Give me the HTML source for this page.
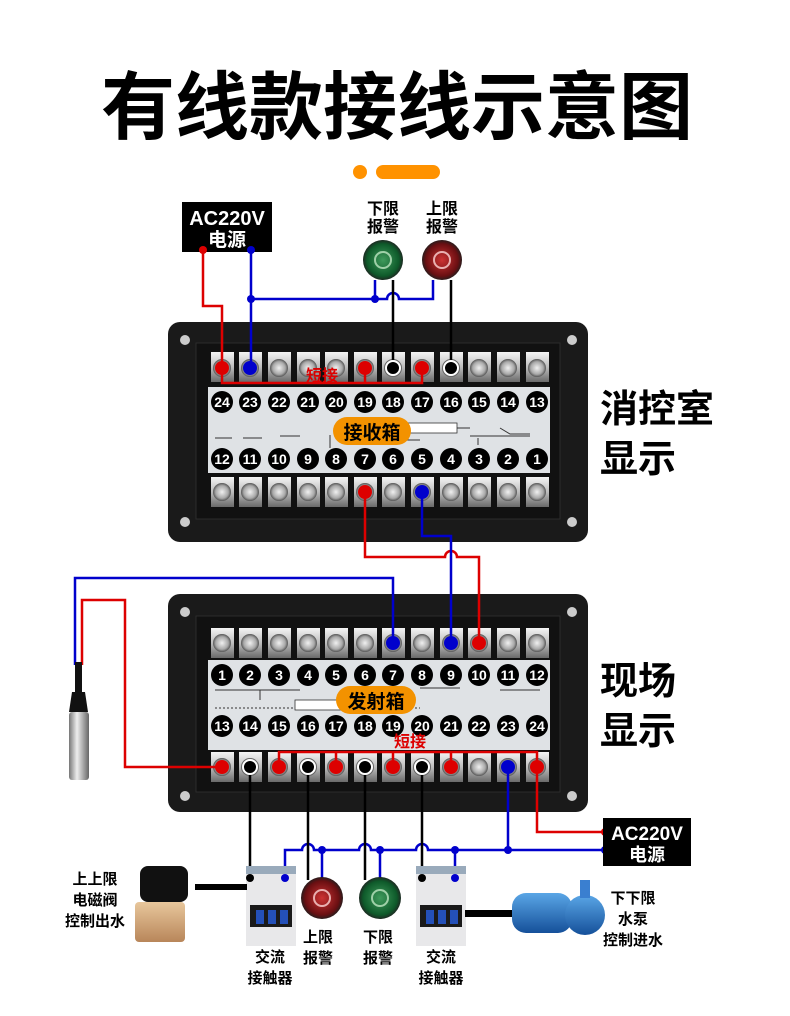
<!DOCTYPE html>
<html><head><meta charset="utf-8"><style>
body{margin:0;background:#fff}
svg{display:block}
text{font-family:"Liberation Sans","Noto Sans CJK SC",sans-serif;font-weight:bold}
</style></head><body>
<svg width="790" height="1016" viewBox="0 0 790 1016" xmlns="http://www.w3.org/2000/svg">
<defs>
<linearGradient id="term" x1="0" x2="0" y1="0" y2="1"><stop offset="0" stop-color="#f4f4f4"/><stop offset="0.5" stop-color="#bdbdbd"/><stop offset="1" stop-color="#6a6a6a"/></linearGradient>
<radialGradient id="screw"><stop offset="0" stop-color="#f0f0f0"/><stop offset="0.7" stop-color="#a8a8a8"/><stop offset="1" stop-color="#555"/></radialGradient>
<radialGradient id="gal"><stop offset="0" stop-color="#3f9a5c"/><stop offset="0.8" stop-color="#0e5a2a"/><stop offset="1" stop-color="#1d2a22"/></radialGradient>
<radialGradient id="ral"><stop offset="0" stop-color="#c33"/><stop offset="0.8" stop-color="#6a0f12"/><stop offset="1" stop-color="#2a1c1c"/></radialGradient>
<linearGradient id="probe" x1="0" x2="1"><stop offset="0" stop-color="#777"/><stop offset="0.4" stop-color="#eee"/><stop offset="1" stop-color="#666"/></linearGradient>
<linearGradient id="pump" x1="0" x2="0" y1="0" y2="1"><stop offset="0" stop-color="#5aa6e6"/><stop offset="1" stop-color="#15509a"/></linearGradient>
<linearGradient id="brass" x1="0" x2="0" y1="0" y2="1"><stop offset="0" stop-color="#e8c79c"/><stop offset="1" stop-color="#b8865a"/></linearGradient>
</defs>

<!-- title -->
<text x="397" y="133" font-size="74" text-anchor="middle" fill="#000" letter-spacing="0">有线款接线示意图</text>
<circle cx="360" cy="172" r="7" fill="#ff9200"/>
<rect x="376" y="165" width="64" height="14" rx="7" fill="#ff9200"/>

<!-- top AC220V -->
<rect x="182" y="202" width="90" height="50" fill="#000"/>
<text x="227" y="225" font-size="20" fill="#fff" text-anchor="middle">AC220V</text>
<text x="227" y="246" font-size="19" fill="#fff" text-anchor="middle">电源</text>
<text x="383" y="214" font-size="16" text-anchor="middle">下限</text>
<text x="383" y="232" font-size="16" text-anchor="middle">报警</text>
<text x="442" y="214" font-size="16" text-anchor="middle">上限</text>
<text x="442" y="232" font-size="16" text-anchor="middle">报警</text>
<circle cx="383" cy="260" r="20" fill="url(#gal)"/>
<circle cx="383" cy="260" r="8" fill="none" stroke="#9fd0a8" stroke-width="2"/>
<circle cx="442" cy="260" r="20" fill="url(#ral)"/>
<circle cx="442" cy="260" r="8" fill="none" stroke="#e9b0b0" stroke-width="2"/>

<!-- receiver box -->
<rect x="168" y="322" width="420" height="220" rx="12" fill="#1a1a1a"/>
<rect x="196" y="343" width="364" height="176" fill="#111" stroke="#2c2c2c"/>
<circle cx="185" cy="340" r="5" fill="#ccc"/><circle cx="572" cy="340" r="5" fill="#ccc"/>
<circle cx="185" cy="522" r="5" fill="#ccc"/><circle cx="572" cy="522" r="5" fill="#ccc"/>
<rect x="208" y="387" width="342" height="86" fill="#dfe2e5"/>
<g id="rt"></g>

<!-- transmitter box -->
<rect x="168" y="594" width="420" height="218" rx="12" fill="#1a1a1a"/>
<rect x="196" y="616" width="364" height="176" fill="#111" stroke="#2c2c2c"/>
<circle cx="185" cy="612" r="5" fill="#ccc"/><circle cx="572" cy="612" r="5" fill="#ccc"/>
<circle cx="185" cy="796" r="5" fill="#ccc"/><circle cx="572" cy="796" r="5" fill="#ccc"/>
<rect x="208" y="660" width="342" height="90" fill="#dfe2e5"/>

<!-- terminals -->
<g fill="url(#term)">
<rect x="211" y="352" width="23" height="30"/><rect x="239" y="352" width="23" height="30"/><rect x="268" y="352" width="23" height="30"/><rect x="297" y="352" width="23" height="30"/><rect x="325" y="352" width="23" height="30"/><rect x="354" y="352" width="23" height="30"/><rect x="382" y="352" width="23" height="30"/><rect x="411" y="352" width="23" height="30"/><rect x="440" y="352" width="23" height="30"/><rect x="468" y="352" width="23" height="30"/><rect x="497" y="352" width="23" height="30"/><rect x="526" y="352" width="23" height="30"/>
<rect x="211" y="477" width="23" height="30"/><rect x="239" y="477" width="23" height="30"/><rect x="268" y="477" width="23" height="30"/><rect x="297" y="477" width="23" height="30"/><rect x="325" y="477" width="23" height="30"/><rect x="354" y="477" width="23" height="30"/><rect x="382" y="477" width="23" height="30"/><rect x="411" y="477" width="23" height="30"/><rect x="440" y="477" width="23" height="30"/><rect x="468" y="477" width="23" height="30"/><rect x="497" y="477" width="23" height="30"/><rect x="526" y="477" width="23" height="30"/>
<rect x="211" y="628" width="23" height="30"/><rect x="239" y="628" width="23" height="30"/><rect x="268" y="628" width="23" height="30"/><rect x="297" y="628" width="23" height="30"/><rect x="325" y="628" width="23" height="30"/><rect x="354" y="628" width="23" height="30"/><rect x="382" y="628" width="23" height="30"/><rect x="411" y="628" width="23" height="30"/><rect x="440" y="628" width="23" height="30"/><rect x="468" y="628" width="23" height="30"/><rect x="497" y="628" width="23" height="30"/><rect x="526" y="628" width="23" height="30"/>
<rect x="211" y="752" width="23" height="30"/><rect x="239" y="752" width="23" height="30"/><rect x="268" y="752" width="23" height="30"/><rect x="297" y="752" width="23" height="30"/><rect x="325" y="752" width="23" height="30"/><rect x="354" y="752" width="23" height="30"/><rect x="382" y="752" width="23" height="30"/><rect x="411" y="752" width="23" height="30"/><rect x="440" y="752" width="23" height="30"/><rect x="468" y="752" width="23" height="30"/><rect x="497" y="752" width="23" height="30"/><rect x="526" y="752" width="23" height="30"/>
</g>
<g fill="url(#screw)">
<circle cx="222" cy="368" r="9"/><circle cx="250" cy="368" r="9"/><circle cx="279" cy="368" r="9"/><circle cx="308" cy="368" r="9"/><circle cx="336" cy="368" r="9"/><circle cx="365" cy="368" r="9"/><circle cx="393" cy="368" r="9"/><circle cx="422" cy="368" r="9"/><circle cx="451" cy="368" r="9"/><circle cx="479" cy="368" r="9"/><circle cx="508" cy="368" r="9"/><circle cx="537" cy="368" r="9"/>
<circle cx="222" cy="492" r="9"/><circle cx="250" cy="492" r="9"/><circle cx="279" cy="492" r="9"/><circle cx="308" cy="492" r="9"/><circle cx="336" cy="492" r="9"/><circle cx="365" cy="492" r="9"/><circle cx="393" cy="492" r="9"/><circle cx="422" cy="492" r="9"/><circle cx="451" cy="492" r="9"/><circle cx="479" cy="492" r="9"/><circle cx="508" cy="492" r="9"/><circle cx="537" cy="492" r="9"/>
<circle cx="222" cy="643" r="9"/><circle cx="250" cy="643" r="9"/><circle cx="279" cy="643" r="9"/><circle cx="308" cy="643" r="9"/><circle cx="336" cy="643" r="9"/><circle cx="365" cy="643" r="9"/><circle cx="393" cy="643" r="9"/><circle cx="422" cy="643" r="9"/><circle cx="451" cy="643" r="9"/><circle cx="479" cy="643" r="9"/><circle cx="508" cy="643" r="9"/><circle cx="537" cy="643" r="9"/>
<circle cx="222" cy="767" r="9"/><circle cx="250" cy="767" r="9"/><circle cx="279" cy="767" r="9"/><circle cx="308" cy="767" r="9"/><circle cx="336" cy="767" r="9"/><circle cx="365" cy="767" r="9"/><circle cx="393" cy="767" r="9"/><circle cx="422" cy="767" r="9"/><circle cx="451" cy="767" r="9"/><circle cx="479" cy="767" r="9"/><circle cx="508" cy="767" r="9"/><circle cx="537" cy="767" r="9"/>
</g>

<!-- number circles receiver -->
<g fill="#000">
<circle cx="222" cy="402" r="11"/><circle cx="250" cy="402" r="11"/><circle cx="279" cy="402" r="11"/><circle cx="308" cy="402" r="11"/><circle cx="336" cy="402" r="11"/><circle cx="365" cy="402" r="11"/><circle cx="393" cy="402" r="11"/><circle cx="422" cy="402" r="11"/><circle cx="451" cy="402" r="11"/><circle cx="479" cy="402" r="11"/><circle cx="508" cy="402" r="11"/><circle cx="537" cy="402" r="11"/>
<circle cx="222" cy="459" r="11"/><circle cx="250" cy="459" r="11"/><circle cx="279" cy="459" r="11"/><circle cx="308" cy="459" r="11"/><circle cx="336" cy="459" r="11"/><circle cx="365" cy="459" r="11"/><circle cx="393" cy="459" r="11"/><circle cx="422" cy="459" r="11"/><circle cx="451" cy="459" r="11"/><circle cx="479" cy="459" r="11"/><circle cx="508" cy="459" r="11"/><circle cx="537" cy="459" r="11"/>
<circle cx="222" cy="675" r="11"/><circle cx="250" cy="675" r="11"/><circle cx="279" cy="675" r="11"/><circle cx="308" cy="675" r="11"/><circle cx="336" cy="675" r="11"/><circle cx="365" cy="675" r="11"/><circle cx="393" cy="675" r="11"/><circle cx="422" cy="675" r="11"/><circle cx="451" cy="675" r="11"/><circle cx="479" cy="675" r="11"/><circle cx="508" cy="675" r="11"/><circle cx="537" cy="675" r="11"/>
<circle cx="222" cy="726" r="11"/><circle cx="250" cy="726" r="11"/><circle cx="279" cy="726" r="11"/><circle cx="308" cy="726" r="11"/><circle cx="336" cy="726" r="11"/><circle cx="365" cy="726" r="11"/><circle cx="393" cy="726" r="11"/><circle cx="422" cy="726" r="11"/><circle cx="451" cy="726" r="11"/><circle cx="479" cy="726" r="11"/><circle cx="508" cy="726" r="11"/><circle cx="537" cy="726" r="11"/>
</g>
<g fill="#fff" font-size="14" text-anchor="middle">
<text x="222" y="407">24</text><text x="250" y="407">23</text><text x="279" y="407">22</text><text x="308" y="407">21</text><text x="336" y="407">20</text><text x="365" y="407">19</text><text x="393" y="407">18</text><text x="422" y="407">17</text><text x="451" y="407">16</text><text x="479" y="407">15</text><text x="508" y="407">14</text><text x="537" y="407">13</text>
<text x="222" y="464">12</text><text x="250" y="464">11</text><text x="279" y="464">10</text><text x="308" y="464">9</text><text x="336" y="464">8</text><text x="365" y="464">7</text><text x="393" y="464">6</text><text x="422" y="464">5</text><text x="451" y="464">4</text><text x="479" y="464">3</text><text x="508" y="464">2</text><text x="537" y="464">1</text>
<text x="222" y="680">1</text><text x="250" y="680">2</text><text x="279" y="680">3</text><text x="308" y="680">4</text><text x="336" y="680">5</text><text x="365" y="680">6</text><text x="393" y="680">7</text><text x="422" y="680">8</text><text x="451" y="680">9</text><text x="479" y="680">10</text><text x="508" y="680">11</text><text x="537" y="680">12</text>
<text x="222" y="731">13</text><text x="250" y="731">14</text><text x="279" y="731">15</text><text x="308" y="731">16</text><text x="336" y="731">17</text><text x="365" y="731">18</text><text x="393" y="731">19</text><text x="422" y="731">20</text><text x="451" y="731">21</text><text x="479" y="731">22</text><text x="508" y="731">23</text><text x="537" y="731">24</text>
</g>
<!-- small panel lines -->
<g stroke="#333" stroke-width="1" fill="none">
<path d="M470 436 H530 M478 445 V438 M500 428 l10 6 l20 0"/>
<path d="M405 428 H470 M330 435 V448 M350 440 H420"/>
<path d="M215 438 H232 M243 438 H262 M280 436 H300"/>
<path d="M215 690 H300 M260 700 V690 M420 688 H460 M500 690 H540"/>
<path d="M215 708 H420" stroke-dasharray="2 2"/>
</g>
<rect x="397" y="423" width="60" height="10" fill="#fff" stroke="#333" stroke-width="0.8"/>
<rect x="295" y="700" width="62" height="10" fill="#fff" stroke="#333" stroke-width="0.8"/>
<rect x="333" y="417" width="78" height="28" rx="14" fill="#f39200"/>
<text x="372" y="439" font-size="19" text-anchor="middle" fill="#000">接收箱</text>
<rect x="336" y="686" width="80" height="28" rx="14" fill="#f39200"/>
<text x="376" y="708" font-size="19" text-anchor="middle" fill="#000">发射箱</text>

<!-- right labels -->
<g font-size="38" fill="#000" font-weight="normal">
<text x="600" y="422">消控室</text>
<text x="600" y="472">显示</text>
<text x="600" y="694">现场</text>
<text x="600" y="744">显示</text>
</g>

<!-- wires top -->
<g fill="none" stroke-width="2.5">
<path d="M203 250 V306 H222 V368" stroke="#d00"/>
<path d="M251 250 V368" stroke="#00c"/>
<path d="M251 299 H387 a6 6 0 0 1 12 0 H433 V280" stroke="#00c"/>
<path d="M375 299 V280" stroke="#00c"/>
<path d="M393 280 V368" stroke="#000"/>
<path d="M451 280 V368" stroke="#000"/>
<path d="M222 368 V383 H422 V368 M365 368 V383" stroke="#d00"/>
<!-- between boxes -->
<path d="M365 492 V557 H445 a6 6 0 0 1 12 0 H479 V643" stroke="#d00"/>
<path d="M422 492 V536 H451 V643" stroke="#00c"/>
<path d="M393 643 V578 H75 V665" stroke="#00c"/>
<path d="M82 665 V600 H125 V767 H222" stroke="#d00"/>
<!-- transmitter short link -->
<path d="M279 767 V752 H537 V767 M336 767 V752 M393 767 V752 M451 767 V752" stroke="#d00"/>
<!-- bottom -->
<path d="M537 767 V832 H605" stroke="#d00"/>
<path d="M508 767 V850" stroke="#00c"/>
<path d="M605 850 H428 a6 6 0 0 0 -12 0 H371 a6 6 0 0 0 -12 0 H314 a6 6 0 0 0 -12 0 H285 V878" stroke="#00c"/>
<path d="M322 850 V880 M380 850 V880 M455 850 V878" stroke="#00c"/>
<path d="M250 767 V878 M308 767 V880 M365 767 V880 M422 767 V878" stroke="#000"/>
</g>
<g fill="#d00"><circle cx="203" cy="250" r="4"/><circle cx="222" cy="368" r="7"/><circle cx="365" cy="368" r="7"/><circle cx="422" cy="368" r="7"/><circle cx="365" cy="492" r="7"/><circle cx="479" cy="643" r="7"/>
<circle cx="222" cy="767" r="7"/><circle cx="279" cy="767" r="7"/><circle cx="336" cy="767" r="7"/><circle cx="393" cy="767" r="7"/><circle cx="451" cy="767" r="7"/><circle cx="537" cy="767" r="7"/><circle cx="605" cy="832" r="4"/></g>
<g fill="#00c"><circle cx="251" cy="250" r="4"/><circle cx="250" cy="368" r="7"/><circle cx="251" cy="299" r="4"/><circle cx="375" cy="299" r="4"/><circle cx="422" cy="492" r="7"/><circle cx="393" cy="643" r="7"/><circle cx="451" cy="643" r="7"/><circle cx="508" cy="767" r="7"/>
<circle cx="322" cy="850" r="4"/><circle cx="380" cy="850" r="4"/><circle cx="455" cy="850" r="4"/><circle cx="508" cy="850" r="4"/><circle cx="605" cy="850" r="4"/></g>
<g fill="#000" stroke="#fff" stroke-width="2"><circle cx="393" cy="368" r="7"/><circle cx="451" cy="368" r="7"/><circle cx="250" cy="767" r="7"/><circle cx="308" cy="767" r="7"/><circle cx="365" cy="767" r="7"/><circle cx="422" cy="767" r="7"/></g>
<text x="322" y="381" font-size="16" fill="#d00" text-anchor="middle">短接</text>
<text x="410" y="747" font-size="16" fill="#d00" text-anchor="middle">短接</text>

<!-- probe -->
<rect x="75" y="662" width="7" height="30" fill="#111"/>
<path d="M72 692 H85 L88 712 H69 Z" fill="#111"/>
<rect x="69" y="712" width="20" height="68" rx="3" fill="url(#probe)"/>

<!-- bottom AC -->
<rect x="603" y="818" width="88" height="48" fill="#000"/>
<text x="647" y="840" font-size="19" fill="#fff" text-anchor="middle">AC220V</text>
<text x="647" y="861" font-size="18" fill="#fff" text-anchor="middle">电源</text>

<!-- contactors -->
<g>
<rect x="246" y="866" width="50" height="80" fill="#e8e8ea"/>
<rect x="246" y="866" width="50" height="8" fill="#9ab"/>
<rect x="250" y="905" width="42" height="22" fill="#1a1a1a"/>
<rect x="256" y="910" width="8" height="14" fill="#2450b8"/><rect x="268" y="910" width="8" height="14" fill="#2450b8"/><rect x="280" y="910" width="8" height="14" fill="#2450b8"/>
<rect x="416" y="866" width="50" height="80" fill="#e8e8ea"/>
<rect x="416" y="866" width="50" height="8" fill="#9ab"/>
<rect x="420" y="905" width="42" height="22" fill="#1a1a1a"/>
<rect x="426" y="910" width="8" height="14" fill="#2450b8"/><rect x="438" y="910" width="8" height="14" fill="#2450b8"/><rect x="450" y="910" width="8" height="14" fill="#2450b8"/>
</g>
<g fill="#000"><circle cx="250" cy="878" r="4"/><circle cx="422" cy="878" r="4"/></g>
<g fill="#00c"><circle cx="285" cy="878" r="4"/><circle cx="455" cy="878" r="4"/></g>
<circle cx="322" cy="898" r="21" fill="url(#ral)"/>
<circle cx="322" cy="898" r="8" fill="none" stroke="#e9b0b0" stroke-width="2"/>
<circle cx="380" cy="898" r="21" fill="url(#gal)"/>
<circle cx="380" cy="898" r="8" fill="none" stroke="#9fd0a8" stroke-width="2"/>

<!-- valve -->
<rect x="195" y="884" width="52" height="6" fill="#000"/>
<rect x="140" y="866" width="48" height="36" rx="8" fill="#111"/>
<rect x="135" y="902" width="50" height="40" rx="4" fill="url(#brass)"/>
<!-- pump -->
<rect x="465" y="910" width="48" height="7" fill="#000"/>
<rect x="512" y="893" width="60" height="40" rx="14" fill="url(#pump)"/>
<circle cx="585" cy="915" r="20" fill="url(#pump)"/>
<rect x="580" y="880" width="10" height="18" fill="#3a7fd0"/>

<!-- bottom labels -->
<g font-size="15" text-anchor="middle" fill="#000">
<text x="95" y="884">上上限</text><text x="95" y="905">电磁阀</text><text x="95" y="926">控制出水</text>
<text x="633" y="903">下下限</text><text x="633" y="924">水泵</text><text x="633" y="945">控制进水</text>
<text x="318" y="942">上限</text><text x="318" y="963">报警</text>
<text x="378" y="942">下限</text><text x="378" y="963">报警</text>
<text x="270" y="962">交流</text><text x="270" y="983">接触器</text>
<text x="441" y="962">交流</text><text x="441" y="983">接触器</text>
</g>
</svg>
</body></html>
